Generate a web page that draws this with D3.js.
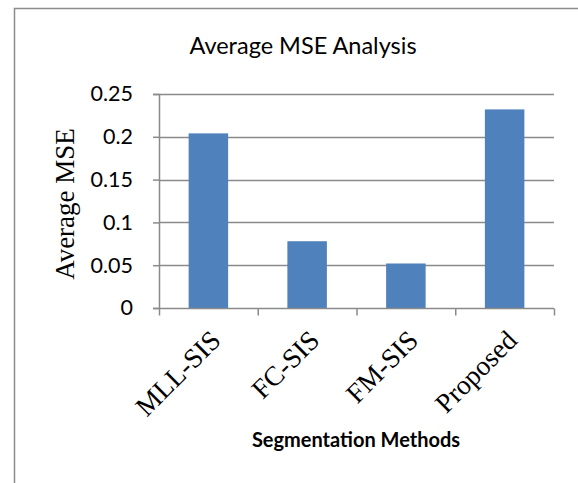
<!DOCTYPE html>
<html>
<head>
<meta charset="utf-8">
<script src="https://cdn.jsdelivr.net/npm/d3@7"></script>
<style>
  html, body { margin: 0; padding: 0; background: #fff; }
  svg { display: block; }
</style>
</head>
<body>
<svg id="chart" width="578" height="483"></svg>
<script>
// Average MSE per segmentation method
const categories = ["MLL-SIS", "FC-SIS", "FM-SIS", "Proposed"];
const mseValues = [0.204, 0.078, 0.052, 0.232];
const yTicks = [0, 0.05, 0.1, 0.15, 0.2, 0.25];
const yTickLabels = ["0", "0.05", "0.1", "0.15", "0.2", "0.25"];

const svg = d3.select("#chart");
const margin = { left: 159, right: 24, top: 94, bottom: 175 };
const W = 578, H = 483;
const plotW = W - margin.left - margin.right;
const plotH = H - margin.top - margin.bottom;

// Chart frame
svg.append("path")
  .attr("d", `M14.5,${H} V8.5 H${W}`)
  .attr("fill", "none")
  .attr("stroke", "#8c8c8c")
  .attr("stroke-width", 1.5);

const g = svg.append("g").attr("transform", `translate(${margin.left},${margin.top})`);

const xOuter = d3.scaleBand().domain(categories).range([0, plotW]);
const y = d3.scaleLinear().domain([0, 0.25]).range([plotH, 0]);

// Horizontal gridlines
g.selectAll("line.grid")
  .data(yTicks.slice(1))
  .enter().append("line")
  .attr("class", "grid")
  .attr("x1", 0).attr("x2", plotW)
  .attr("y1", d => Math.round(y(d)) + 0.5).attr("y2", d => Math.round(y(d)) + 0.5)
  .attr("stroke", "#8a8a8a").attr("stroke-width", 1.5);

// Bars
g.selectAll("rect.bar")
  .data(mseValues)
  .enter().append("rect")
  .attr("class", "bar")
  .attr("x", (d, i) => xOuter(categories[i]) + xOuter.bandwidth() * 0.3)
  .attr("width", xOuter.bandwidth() * 0.4)
  .attr("y", d => y(d))
  .attr("height", d => plotH - y(d))
  .attr("fill", "#4f81bd");

// Y axis
const yAxis = d3.axisLeft(y).tickValues(yTicks).tickSize(6).tickPadding(20)
  .tickFormat((d, i) => yTickLabels[i]);
const ya = g.append("g").call(yAxis);
ya.select(".domain").attr("stroke", "#8a8a8a").attr("stroke-width", 1.5).attr("d", `M-6,0.5 H0.5 V${plotH}`);
ya.selectAll(".tick line").attr("stroke", "#8a8a8a").attr("stroke-width", 1.5);
ya.selectAll(".tick text")
  .attr("font-family", "Lato, 'Open Sans', sans-serif")
  .attr("font-size", 21.5).attr("fill", "#000");

// X axis with ticks at category boundaries
const baseY = Math.round(y(0)) + 0.5;
g.append("line").attr("x1", -6).attr("x2", plotW).attr("y1", baseY).attr("y2", baseY)
  .attr("stroke", "#8a8a8a").attr("stroke-width", 1.5);
const bounds = categories.map(c => xOuter(c)).concat([plotW]);
g.selectAll("line.xtick")
  .data(bounds)
  .enter().append("line")
  .attr("x1", d => d + 0.5).attr("x2", d => d + 0.5)
  .attr("y1", baseY).attr("y2", baseY + 7)
  .attr("stroke", "#8a8a8a").attr("stroke-width", 1.5);

// Rotated category labels
g.selectAll("text.xlab")
  .data(categories)
  .enter().append("text")
  .attr("class", "xlab")
  .attr("transform", d => `translate(${xOuter(d) + xOuter.bandwidth() / 2 + 14},${plotH + 34}) rotate(-45)`)
  .attr("text-anchor", "end")
  .attr("font-family", "'Liberation Serif', 'Times New Roman', serif")
  .attr("font-size", 27.5)
  .attr("fill", "#000")
  .text(d => d);

// Title
svg.append("text")
  .attr("x", 303).attr("y", 54)
  .attr("text-anchor", "middle")
  .attr("font-family", "Lato, 'Open Sans', sans-serif")
  .attr("font-size", 23.5)
  .attr("fill", "#000")
  .text("Average MSE Analysis");

// Y axis title
svg.append("text")
  .attr("transform", `translate(74,204) rotate(-90)`)
  .attr("text-anchor", "middle")
  .attr("font-family", "'Liberation Serif', 'Times New Roman', serif")
  .attr("font-size", 27)
  .attr("fill", "#000")
  .text("Average MSE");

// X axis title
svg.append("text")
  .attr("x", 356).attr("y", 447)
  .attr("text-anchor", "middle")
  .attr("font-family", "Lato, 'Open Sans', sans-serif")
  .attr("font-weight", "bold")
  .attr("font-size", 20)
  .attr("fill", "#000")
  .text("Segmentation Methods");
</script>
</body>
</html>
